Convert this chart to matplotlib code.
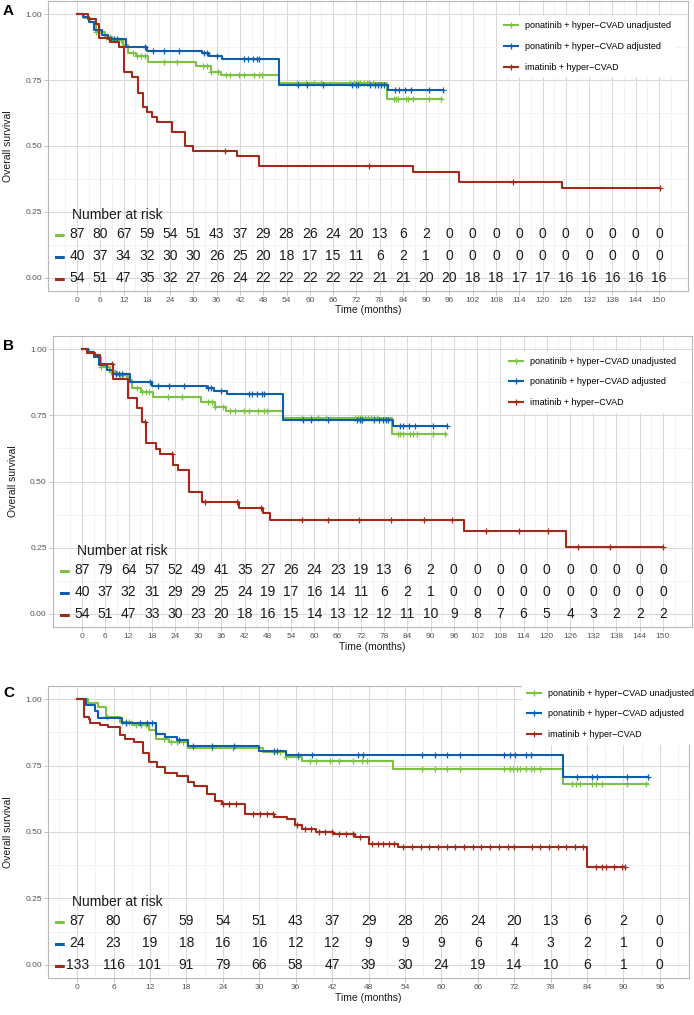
import numpy as np
import matplotlib
matplotlib.use("Agg")
import matplotlib.pyplot as plt
import matplotlib.transforms as mtransforms
from matplotlib.lines import Line2D

plt.rcParams['font.family'] = ['Liberation Sans', 'DejaVu Sans']

# colours
c_unadj = '#7DC242'
c_adj = '#0D5EAF'
c_ima = '#A3291A'

labels = ['ponatinib + hyper\u2212CVAD unadjusted',
          'ponatinib + hyper\u2212CVAD adjusted',
          'imatinib + hyper\u2212CVAD']

# ponatinib + hyper-CVAD unadjusted (same in all panels)
unadj_t = [0, 1.8, 3.4, 4.8, 7.1, 9.1, 11.9, 13.0, 15.1, 18.2, 30.6, 34.4, 37.1, 52.0, 80.0]
unadj_s = [1.0, 0.986, 0.97, 0.932, 0.915, 0.902, 0.883, 0.852, 0.84, 0.818, 0.802, 0.781, 0.768, 0.739, 0.679]
unadj_end = 94.0
unadj_cens = [4.9, 7.4, 8.0, 8.6, 9.7, 10.5, 11.4, 14.3, 15.4, 16.5, 17.4, 22.3, 25.7, 32.5, 33.5,
              34.4, 36.4, 38.3, 39.4, 41.7, 43.1, 45.5, 47.0, 47.8, 56.8, 59.0, 61.0, 63.0, 70.4,
              71.3, 71.8, 72.4, 73.0, 73.9, 74.7, 75.3, 76.2, 81.6, 82.2, 82.8, 84.8, 85.4, 86.5,
              90.6, 93.7]

# ponatinib + hyper-CVAD adjusted, panels A and B
adj_t = [0, 1.5, 3.0, 4.3, 6.5, 8.0, 12.5, 18.0, 32.3, 34.0, 37.4, 52.0, 80.2]
adj_s = [1.0, 0.988, 0.972, 0.94, 0.92, 0.905, 0.875, 0.862, 0.852, 0.842, 0.83, 0.733, 0.711]
adj_end = 94.3
adj_cens = [8.8, 9.5, 10.2, 17.5, 19.5, 22.4, 26.3, 32.6, 33.4, 36.0, 43.0, 44.0, 45.3, 46.5, 47.0,
            57.0, 59.2, 63.5, 71.0, 71.8, 72.4, 75.5, 76.8, 77.6, 78.4, 79.0, 82.0, 83.0, 84.5,
            86.0, 90.6, 94.3]

# ponatinib + hyper-CVAD adjusted, panel C
adj_c_t = [0, 1.4, 2.9, 3.4, 7.4, 13.0, 14.4, 16.4, 18.2, 30.0, 34.4, 80.0]
adj_c_s = [1.0, 0.977, 0.955, 0.931, 0.911, 0.871, 0.858, 0.848, 0.823, 0.806, 0.789, 0.708]
adj_c_end = 94.0
adj_c_cens = [8.0, 10.4, 11.5, 12.4, 16.8, 19.1, 22.3, 25.9, 32.5, 33.0, 36.4, 38.7, 46.3, 47.1,
              56.8, 59.0, 61.0, 63.0, 70.4, 71.3, 72.2, 73.9, 74.7, 82.3, 84.8, 85.7, 90.6, 94.0]

# imatinib + hyper-CVAD, panel A
ima_a_t = [0, 2.8, 4.9, 5.6, 8.5, 10.8, 12.2, 14.1, 15.6, 16.9, 18.0, 19.2, 20.5, 24.4, 27.7,
           30.0, 41.2, 47.0, 86.6, 98.5, 124.9]
ima_a_s = [1.0, 0.983, 0.964, 0.909, 0.895, 0.875, 0.782, 0.76, 0.70, 0.649, 0.63, 0.611, 0.592,
           0.555, 0.50, 0.481, 0.462, 0.424, 0.403, 0.362, 0.341]
ima_a_end = 150.3
ima_a_cens = [38.1, 75.3, 112.3, 150.3]

# imatinib + hyper-CVAD, panel B
ima_b_t = [0, 1.4, 3.4, 4.6, 8.1, 11.8, 14.1, 15.4, 16.5, 19.1, 20.1, 23.6, 24.9, 27.7, 30.9,
           40.4, 46.6, 48.6, 98.6, 125.0]
ima_b_s = [1.0, 0.986, 0.98, 0.946, 0.889, 0.814, 0.776, 0.726, 0.644, 0.623, 0.604, 0.562, 0.543,
           0.462, 0.424, 0.399, 0.38, 0.355, 0.314, 0.252]
ima_b_end = 149.9
ima_b_cens = [7.7, 16.3, 23.2, 31.8, 40.0, 46.3, 56.7, 63.6, 71.5, 79.8, 88.3, 95.6, 104.4,
              112.9, 120.2, 128.0, 136.4, 149.9]

# imatinib + hyper-CVAD, panel C
ima_c_t = [0, 1.1, 1.9, 2.2, 3.7, 5.1, 7.1, 7.9, 9.4, 10.8, 11.9, 13.2, 14.5, 16.5, 18.2, 19.3,
           21.4, 22.7, 23.9, 27.7, 32.5, 34.5, 35.9, 37.1, 39.4, 42.1, 45.7, 48.0, 52.8, 84.0]
ima_c_s = [1.0, 0.934, 0.927, 0.911, 0.902, 0.894, 0.865, 0.852, 0.84, 0.796, 0.764, 0.745, 0.723,
           0.71, 0.689, 0.672, 0.643, 0.618, 0.605, 0.568, 0.558, 0.548, 0.526, 0.51, 0.501,
           0.492, 0.482, 0.455, 0.442, 0.37]
ima_c_end = 90.3
ima_c_cens = [24.0, 25.1, 26.2, 29.0, 30.1, 31.2, 32.3, 36.3, 37.5, 38.6, 39.8, 40.9, 42.0, 43.2,
              44.3, 45.5, 46.6, 48.6, 49.5, 50.4, 51.3, 52.2, 53.7, 55.1, 56.6, 58.0, 59.4, 60.9,
              62.3, 63.7, 65.2, 66.6, 68.0, 69.5, 70.9, 72.0, 74.9, 76.3, 77.7, 79.2, 80.6, 82.0,
              83.3, 85.5, 86.4, 87.2, 88.4, 89.8, 90.3]

# number at risk
risk_a_unadj = [87, 80, 67, 59, 54, 51, 43, 37, 29, 28, 26, 24, 20, 13, 6, 2, 0, 0, 0, 0, 0, 0, 0, 0, 0, 0]
risk_a_adj = [40, 37, 34, 32, 30, 30, 26, 25, 20, 18, 17, 15, 11, 6, 2, 1, 0, 0, 0, 0, 0, 0, 0, 0, 0, 0]
risk_a_ima = [54, 51, 47, 35, 32, 27, 26, 24, 22, 22, 22, 22, 22, 21, 21, 20, 20, 18, 18, 17, 17, 16, 16, 16, 16, 16]

risk_b_unadj = [87, 79, 64, 57, 52, 49, 41, 35, 27, 26, 24, 23, 19, 13, 6, 2, 0, 0, 0, 0, 0, 0, 0, 0, 0, 0]
risk_b_adj = [40, 37, 32, 31, 29, 29, 25, 24, 19, 17, 16, 14, 11, 6, 2, 1, 0, 0, 0, 0, 0, 0, 0, 0, 0, 0]
risk_b_ima = [54, 51, 47, 33, 30, 23, 20, 18, 16, 15, 14, 13, 12, 12, 11, 10, 9, 8, 7, 6, 5, 4, 3, 2, 2, 2]

risk_c_unadj = [87, 80, 67, 59, 54, 51, 43, 37, 29, 28, 26, 24, 20, 13, 6, 2, 0]
risk_c_adj = [24, 23, 19, 18, 16, 16, 12, 12, 9, 9, 9, 6, 4, 3, 2, 1, 0]
risk_c_ima = [133, 116, 101, 91, 79, 66, 58, 47, 39, 30, 24, 19, 14, 10, 6, 1, 0]

W, H = 694, 1015
fig = plt.figure(figsize=(W / 100, H / 100), dpi=100)


def px_axes(left, top, right, bottom):
    return fig.add_axes([left / W, 1 - bottom / H, (right - left) / W, (bottom - top) / H])


def km_at(t, s, tc):
    idx = np.searchsorted(t, tc, side='right') - 1
    return np.asarray(s)[idx]


def draw_panel(ax, curves, risks, tmax, leg_xy):
    times = np.arange(0, tmax + 1, 6)
    pad = tmax * 0.05
    ax.set_xlim(-pad, tmax + pad)
    ax.set_ylim(-0.05, 1.05)
    ax.set_xticks(times)
    ax.set_xticks(np.arange(-3, tmax + pad, 6), minor=True)
    ax.set_yticks([0, 0.25, 0.5, 0.75, 1.0])
    ax.set_yticks([0.125, 0.375, 0.625, 0.875], minor=True)
    ax.set_yticklabels(['0.00', '0.25', '0.50', '0.75', '1.00'])
    ax.grid(which='major', color='#D9D9D9', lw=0.75)
    ax.grid(which='minor', color='#EDEDED', lw=0.45)
    ax.set_axisbelow(True)
    for sp in ax.spines.values():
        sp.set_color('#B8B8B8')
        sp.set_linewidth(0.8)
    ax.tick_params(which='major', length=3, width=0.6, color='#B8B8B8',
                   labelsize=6, labelcolor='#555555', pad=1.5)
    ax.tick_params(which='minor', length=0)

    for t, s, end, cens, col in curves:
        ax.step(list(t) + [end], list(s) + [s[-1]], where='post', color=col, lw=1.5, zorder=3)
        ax.plot(cens, km_at(t, s, cens), ls='none', marker='+', ms=4.5, mew=0.9,
                color=col, zorder=3)

    # number at risk table
    trans = mtransforms.blended_transform_factory(ax.transAxes, ax.transData)
    ax.text(0.0375, 0.237, 'Number at risk', transform=trans, ha='left', va='center',
            fontsize=10, color='#1A1A1A')
    row_y = [0.166, 0.083, 0.0]
    for (t, s, end, cens, col), vals, y in zip(curves, risks, row_y):
        ax.text(0.018, y, '\u25AC', transform=trans, ha='center', va='center',
                fontsize=7, color=col)
        for tt, v in zip(times, vals):
            ax.text(tt, y, str(v), ha='center', va='center', fontsize=10, color='#1A1A1A')

    ax.set_xlabel('Time (months)', fontsize=7.5, color='#1A1A1A')
    ax.xaxis.set_label_coords(0.5, -0.05)
    ax.set_ylabel('Overall survival', fontsize=7.5, color='#1A1A1A')
    ax.yaxis.set_label_coords(-0.055, 0.5)

    handles = [Line2D([], [], color=c[4], lw=1.5, marker='+', ms=4.5, mew=0.9) for c in curves]
    leg = ax.legend(handles, labels, loc='center left',
                    bbox_to_anchor=(leg_xy[0] / W, 1 - leg_xy[1] / H),
                    bbox_transform=fig.transFigure, fontsize=6.5, frameon=True,
                    handlelength=1.45, handletextpad=0.8, labelspacing=1.3,
                    borderpad=0.6, borderaxespad=0)
    leg.get_frame().set_facecolor('white')
    leg.get_frame().set_edgecolor('none')
    leg.get_frame().set_alpha(1)
    leg.set_zorder(10)


ax_a = px_axes(48, 1, 688, 291)
draw_panel(ax_a,
           [(unadj_t, unadj_s, unadj_end, unadj_cens, c_unadj),
            (adj_t, adj_s, adj_end, adj_cens, c_adj),
            (ima_a_t, ima_a_s, ima_a_end, ima_a_cens, c_ima)],
           [risk_a_unadj, risk_a_adj, risk_a_ima], 150, (499, 46.5))

ax_b = px_axes(53, 336, 692, 627)
draw_panel(ax_b,
           [(unadj_t, unadj_s, unadj_end, unadj_cens, c_unadj),
            (adj_t, adj_s, adj_end, adj_cens, c_adj),
            (ima_b_t, ima_b_s, ima_b_end, ima_b_cens, c_ima)],
           [risk_b_unadj, risk_b_adj, risk_b_ima], 150, (504, 382))

ax_c = px_axes(48, 686, 689, 978)
draw_panel(ax_c,
           [(unadj_t, unadj_s, unadj_end, unadj_cens, c_unadj),
            (adj_c_t, adj_c_s, adj_c_end, adj_c_cens, c_adj),
            (ima_c_t, ima_c_s, ima_c_end, ima_c_cens, c_ima)],
           [risk_c_unadj, risk_c_adj, risk_c_ima], 96, (522, 714))

for letter, y in [('A', 15), ('B', 350), ('C', 697)]:
    fig.text(3 / W, 1 - y / H, letter, fontsize=11, fontweight='bold', ha='left', va='baseline')

fig.savefig('out.png', dpi=100)
